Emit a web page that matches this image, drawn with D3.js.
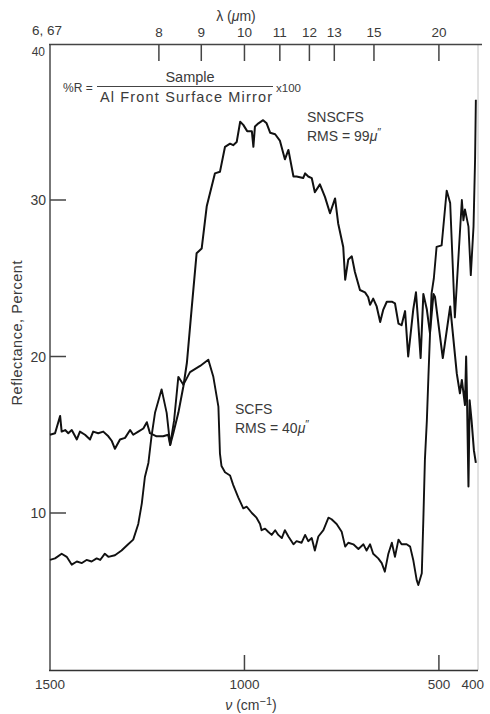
<!DOCTYPE html>
<html><head><meta charset="utf-8">
<script src="https://cdn.jsdelivr.net/npm/d3@7"></script>
<style>
body{margin:0;background:#fff}
svg{display:block}
text{font-family:"Liberation Sans",Arial,sans-serif;fill:#3a3a3a}
</style>
</head><body>
<svg id="c" width="490" height="714"></svg>
<script>
// [wavenumber cm^-1, reflectance %]
const snscfs = [[1500,15.0],[1487,15.1],[1474,16.2],[1470,15.2],[1461,15.3],[1453,15.1],[1444,15.3],[1431,14.7],[1423,15.2],[1410,15.0],[1397,14.7],[1389,15.2],[1376,15.1],[1363,15.2],[1350,14.9],[1341,14.6],[1333,14.1],[1320,14.7],[1307,14.8],[1294,15.3],[1286,15.0],[1273,15.2],[1260,15.4],[1251,15.8],[1243,15.1],[1226,14.9],[1209,14.9],[1196,15.0],[1191,14.35],[1183,15.1],[1170,16.4],[1157,18.1],[1148,19.6],[1136,23.0],[1123,26.6],[1110,26.9],[1097,29.6],[1076,31.7],[1063,31.8],[1050,33.4],[1037,33.6],[1029,33.5],[1020,33.7],[1011,35.0],[1003,34.8],[993,34.4],[981,34.4],[977,33.4],[973,34.7],[964,34.9],[952,35.1],[943,34.9],[934,34.3],[921,34.2],[909,33.8],[896,32.6],[887,33.2],[874,31.5],[866,31.5],[849,31.4],[844,31.7],[836,31.5],[827,31.4],[819,30.5],[806,31.0],[793,30.2],[780,29.15],[767,30.1],[759,28.5],[746,27.0],[741,24.9],[733,26.2],[724,26.4],[716,25.4],[703,24.25],[690,24.1],[682,23.8],[677,23.3],[669,23.7],[660,23.2],[651,22.2],[643,23.0],[634,23.5],[621,23.5],[613,23.4],[604,22.1],[596,22.0],[587,22.9],[579,20.0],[566,23.0],[559,24.1],[553,22.1],[547,19.9],[540,24.0],[531,23.0],[523,21.5],[514,24.0],[510,23.8],[490,19.9],[471,23.2],[454,18.9],[446,17.65],[441,18.5],[433,16.9],[430,20.0],[428,17.7],[424,11.7],[421,17.2],[416,15.9],[410,14.0],[405,13.2]];
const scfs = [[1500,7.0],[1487,7.1],[1470,7.4],[1457,7.2],[1444,6.7],[1431,6.9],[1418,6.8],[1406,7.0],[1393,6.9],[1380,7.1],[1371,7.0],[1359,7.4],[1350,7.2],[1333,7.3],[1316,7.6],[1299,8.0],[1286,8.3],[1273,9.3],[1264,10.6],[1256,12.3],[1247,13.2],[1239,14.9],[1230,16.4],[1213,17.9],[1200,16.4],[1191,14.35],[1181,15.9],[1170,18.7],[1157,18.2],[1140,19.0],[1114,19.4],[1093,19.8],[1080,18.7],[1067,16.8],[1063,13.8],[1059,13.0],[1050,12.6],[1037,12.4],[1029,11.8],[1016,11.0],[1003,10.3],[994,10.4],[981,10.0],[969,9.7],[960,9.3],[956,8.9],[947,9.0],[939,8.8],[930,8.6],[921,8.9],[913,8.6],[904,8.4],[896,8.9],[887,8.5],[874,8.0],[866,8.2],[853,8.1],[844,8.6],[836,8.2],[827,8.4],[819,7.6],[810,8.5],[797,8.9],[784,9.7],[776,9.6],[763,9.3],[750,8.8],[741,7.85],[733,8.1],[720,8.0],[707,7.7],[694,8.0],[686,7.6],[677,8.0],[669,7.4],[656,7.1],[647,6.8],[639,6.25],[630,7.4],[621,8.1],[613,7.2],[604,8.3],[596,8.0],[583,8.0],[574,7.85],[566,7.0],[557,5.7],[553,5.4],[544,6.15],[540,9.6],[536,13.4],[531,15.9],[527,18.7],[519,24.0],[513,25.0],[506,27.0],[493,27.1],[480,30.6],[471,29.8],[459,22.5],[441,30.0],[437,28.7],[433,29.4],[424,28.3],[418,25.2],[411,28.3],[407,32.6],[405,36.4]];

const nuTickMarks = [1000, 500];
const nuTickLabels = [1500, 1000, 500, 400];
const rTickMarks = [10, 20, 30];
const rTickLabels = [10, 20, 30, 40];
const lambdaLabels = ["6, 67","8","9","10","11","12","13","15","20"];
const lambdaNu = [1500, 1220, 1111, 1000, 909, 833, 769, 667, 500];

const svg = d3.select("#c");
const x = d3.scaleLinear().domain([1500, 400]).range([50, 477.8]);
const y = d3.scaleLinear().domain([0, 40]).range([669.5, 43.5]);

// frame
svg.append("line").attr("x1",478).attr("x2",478).attr("y1",44.5).attr("y2",670).attr("stroke","#c4c4c4").attr("stroke-width",1);
svg.append("line").attr("x1",50).attr("x2",50).attr("y1",44).attr("y2",671).attr("stroke","#777").attr("stroke-width",2);
svg.append("line").attr("x1",49).attr("x2",478).attr("y1",670.5).attr("y2",670.5).attr("stroke","#333").attr("stroke-width",1.5);
svg.append("line").attr("x1",49).attr("x2",482).attr("y1",44.5).attr("y2",44.5).attr("stroke","#444").attr("stroke-width",1.5);

// left ticks
svg.selectAll(".rt").data(rTickMarks).enter().append("line")
  .attr("x1",50).attr("x2",66).attr("y1",d=>y(d)).attr("y2",d=>y(d))
  .attr("stroke","#444").attr("stroke-width",1.5);
svg.selectAll(".rl").data(rTickLabels).enter().append("text")
  .attr("x",d=>d===40 ? 45 : 46)
  .attr("y",d=>d===40 ? y(d)+8 : y(d))
  .attr("dy","0.36em").attr("text-anchor","end")
  .attr("font-size",d=>d===40 ? 12 : 14).text(d=>d);

// bottom ticks
svg.selectAll(".bt").data(nuTickMarks).enter().append("line")
  .attr("x1",d=>x(d)).attr("x2",d=>x(d)).attr("y1",670).attr("y2",655)
  .attr("stroke","#444").attr("stroke-width",1.5);
svg.selectAll(".bl").data(nuTickLabels).enter().append("text")
  .attr("x",d=>x(d) + (d===400 ? -5 : 0)).attr("y",689).attr("text-anchor","middle")
  .attr("font-size",13.5).text(d=>d);

// top ticks
svg.selectAll(".tt").data(lambdaNu.slice(1)).enter().append("line")
  .attr("x1",d=>x(d)).attr("x2",d=>x(d)).attr("y1",45).attr("y2",61)
  .attr("stroke","#444").attr("stroke-width",1.5);
svg.selectAll(".tl").data(lambdaNu).enter().append("text")
  .attr("x",(d,i)=>x(d) + (i===0 ? -3 : 0)).attr("y",(d,i)=>i===0 ? 35 : 37).attr("text-anchor","middle")
  .attr("font-size",13.5).text((d,i)=>lambdaLabels[i]);

// axis titles
const lt = svg.append("text").attr("x",236).attr("y",21).attr("text-anchor","middle").attr("font-size",14);
lt.append("tspan").text("\u03bb (");
lt.append("tspan").attr("font-style","italic").text("\u03bc");
lt.append("tspan").text("m)");

const bt = svg.append("text").attr("x",251).attr("y",710).attr("text-anchor","middle").attr("font-size",14);
bt.append("tspan").attr("font-style","italic").text("\u03bd");
bt.append("tspan").text(" (cm");
bt.append("tspan").attr("dy",-5).attr("font-size",11).text("\u22121");
bt.append("tspan").attr("dy",5).text(")");

svg.append("text").attr("transform","translate(22,333) rotate(-90)")
  .attr("text-anchor","middle").attr("font-size",14.5)
  .attr("textLength",145).attr("lengthAdjust","spacing").text("Reflectance,  Percent");

// formula
svg.append("text").attr("x",63).attr("y",92).attr("font-size",12).text("%R =");
svg.append("text").attr("x",190).attr("y",82).attr("text-anchor","middle").attr("font-size",14.5).text("Sample");
svg.append("line").attr("x1",97).attr("x2",273).attr("y1",86.5).attr("y2",86.5).attr("stroke","#444").attr("stroke-width",1.2);
svg.append("text").attr("x",100).attr("y",102).attr("font-size",14.5)
  .attr("textLength",172).attr("lengthAdjust","spacing").text("Al Front Surface Mirror");
svg.append("text").attr("x",276).attr("y",92).attr("font-size",11.5).text("x100");

// annotations
function label(x0, y0, name, rms){
  svg.append("text").attr("x",x0).attr("y",y0).attr("font-size",14).text(name);
  const t = svg.append("text").attr("x",x0).attr("y",y0+19).attr("font-size",14);
  t.append("tspan").text("RMS  =  " + rms);
  t.append("tspan").attr("font-style","italic").text("\u03bc");
  t.append("tspan").attr("dy",-5).attr("font-size",11).text("\u2033");
}
label(307, 122, "SNSCFS", "99");
label(235, 414, "SCFS", "40");

// curves
const line = d3.line().x(d=>x(d[0])).y(d=>y(d[1]));
svg.append("path").datum(scfs).attr("d",line).attr("fill","none")
  .attr("stroke","#111").attr("stroke-width",1.9).attr("stroke-linejoin","round");
svg.append("path").datum(snscfs).attr("d",line).attr("fill","none")
  .attr("stroke","#111").attr("stroke-width",2).attr("stroke-linejoin","round");
</script>
</body></html>
